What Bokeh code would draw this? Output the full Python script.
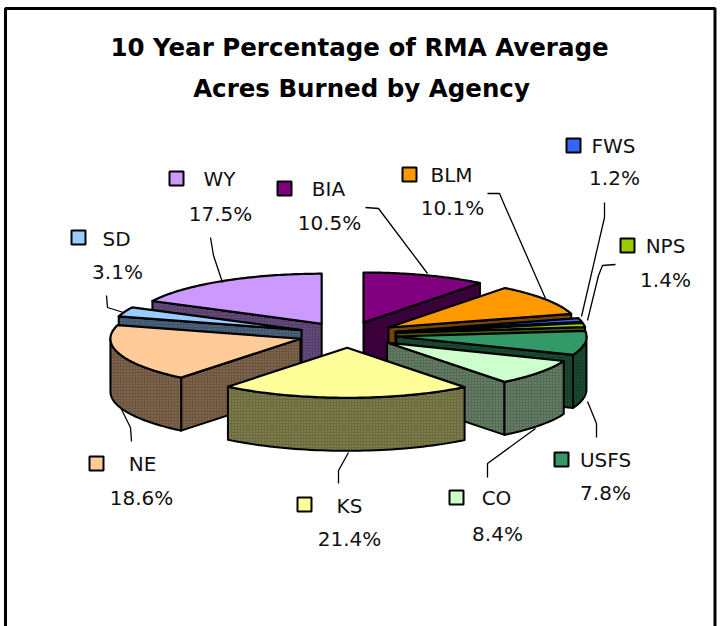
import numpy as np
from bokeh.plotting import figure
from bokeh.models import Range1d, ColumnDataSource
from bokeh.core.properties import value
from bokeh.embed import file_html
from bokeh.resources import INLINE

# ---- data (clockwise from 12 o'clock)
agencies = ["BIA", "BLM", "FWS", "NPS", "USFS", "CO", "KS", "NE", "SD", "WY"]
percent = [10.5, 10.1, 1.2, 1.4, 7.8, 8.4, 21.4, 18.6, 3.1, 17.5]
title_lines = ["10 Year Percentage of RMA Average", "Acres Burned by Agency"]

# ---- styles
colors = ["#800080", "#FF9900", "#3366FF", "#99CC00", "#339966",
          "#CCFFCC", "#FFFF99", "#FFCC99", "#99CCFF", "#CC99FF"]

# ---- layout in page pixels
CX, CY, RX, RY, DEPTH, EXPLODE = 347.0, 334.3, 190.0, 50.0, 53.0, 0.26
square_xy = [(284, 188), (409, 174), (573, 145), (627, 245), (561, 459),
             (456, 497), (304, 504), (96, 463), (78, 237), (176, 178)]
name_xy = [(328, 188), (451, 174), (613, 145), (665, 245), (605, 459),
           (496, 497), (349, 505), (142, 463), (116, 238), (219, 178)]
pct_xy = [(329, 222), (452, 207), (614, 177), (665, 279), (605, 492),
          (497, 533), (349, 538), (141, 497), (117, 271), (220, 213)]
leaders = [
    [(365, 207), (378, 208), (427, 273)],
    [(487, 193), (499, 193), (505, 207), (545, 298)],
    [(604, 202), (604, 217), (581, 316)],
    [(615, 264), (602, 265), (598, 275), (587, 320)],
    [(596, 437), (596, 423), (587, 401)],
    [(487, 477), (487, 463), (535, 428)],
    [(338, 483), (338, 470), (348, 452)],
    [(131, 441), (130, 427), (120, 407)],
    [(106, 295), (107, 307), (123, 312)],
    [(210, 237), (213, 255), (222, 282)],
]


def shade(hex_color, f):
    r, g, b = (int(hex_color[i:i + 2], 16) for i in (1, 3, 5))
    return "#%02x%02x%02x" % (int(r * f), int(g * f), int(b * f))


W, H = 721, 626
p = figure(width=W, height=H, x_range=Range1d(0, W), y_range=Range1d(H, 0),
           output_backend="svg", toolbar_location=None, min_border=0,
           margin=0)
p.axis.visible = False
p.grid.visible = False
p.outline_line_color = None
p.background_fill_color = "white"
p.border_fill_color = "white"

# page frame: left, top and right rule
p.line([5, 5, 714.5, 714.5], [H, 8, 8, H], line_color="black", line_width=3)

# ---- pie geometry from the percentages
total = sum(percent)
edges = np.cumsum([0.0] + [v / total * 360.0 for v in percent])
slices = []
for i in range(len(percent)):
    a0, a1 = edges[i], edges[i + 1]
    mid = np.radians((a0 + a1) / 2)
    ax = CX + EXPLODE * RX * np.sin(mid)
    ay = CY - EXPLODE * RY * np.cos(mid)
    slices.append(dict(i=i, a0=a0, a1=a1, ax=ax, ay=ay, depth=np.cos(mid)))


def rim(s, deg):
    t = np.radians(deg)
    return s["ax"] + RX * np.sin(t), s["ay"] - RY * np.cos(t)


def side_patch(xs, ys, i):
    c = colors[i]
    p.patch(xs, ys, fill_color=shade(c, 0.42), line_color="black", line_width=2,
            line_join="round", hatch_pattern="dot", hatch_color=shade(c, 0.62),
            hatch_scale=3, hatch_weight=1.2, hatch_alpha=0.9)


for s in sorted(slices, key=lambda q: -q["depth"]):
    i = s["i"]
    for edge, normal in ((s["a0"], s["a0"] - 90), (s["a1"], s["a1"] + 90)):
        if np.cos(np.radians(normal)) < 0:
            rx_, ry_ = rim(s, edge)
            side_patch([s["ax"], rx_, rx_, s["ax"]],
                       [s["ay"], ry_, ry_ + DEPTH, s["ay"] + DEPTH], i)
    lo, hi = max(s["a0"], 90.0), min(s["a1"], 270.0)
    if lo < hi:
        arc = np.linspace(lo, hi, 48)
        ex, ey = rim(s, arc)
        side_patch(list(ex) + list(ex[::-1]), list(ey) + list((ey + DEPTH)[::-1]), i)
    tx, ty = rim(s, np.linspace(s["a0"], s["a1"], 64))
    p.patch([s["ax"]] + list(tx), [s["ay"]] + list(ty), fill_color=colors[i],
            line_color="black", line_width=2.2, line_join="round")

# ---- leader lines
p.multi_line([[q[0] for q in l] for l in leaders], [[q[1] for q in l] for l in leaders],
             line_color="black", line_width=1.3)

# ---- legend-key squares and labels
p.scatter([q[0] for q in square_xy], [q[1] for q in square_xy], marker="square", size=14,
          fill_color=colors, line_color="black", line_width=2)
lab = ColumnDataSource(dict(x=[q[0] for q in name_xy], y=[q[1] for q in name_xy], t=agencies))
p.text("x", "y", "t", source=lab, text_font=value("DejaVu Sans"), text_font_size="20px",
       text_align="center", text_baseline="middle", text_color="#111111")
pct = ColumnDataSource(dict(x=[q[0] for q in pct_xy], y=[q[1] for q in pct_xy],
                            t=["%.1f%%" % v for v in percent]))
p.text("x", "y", "t", source=pct, text_font=value("DejaVu Sans"), text_font_size="20px",
       text_align="center", text_baseline="middle", text_color="#111111")

# ---- title
p.text([359, 361], [47, 88], text=title_lines, text_font=value("DejaVu Sans"),
       text_font_style="bold", text_font_size="24.5px", text_align="center",
       text_baseline="middle", text_color="black")

open("out.html", "w").write(file_html(p, INLINE))
